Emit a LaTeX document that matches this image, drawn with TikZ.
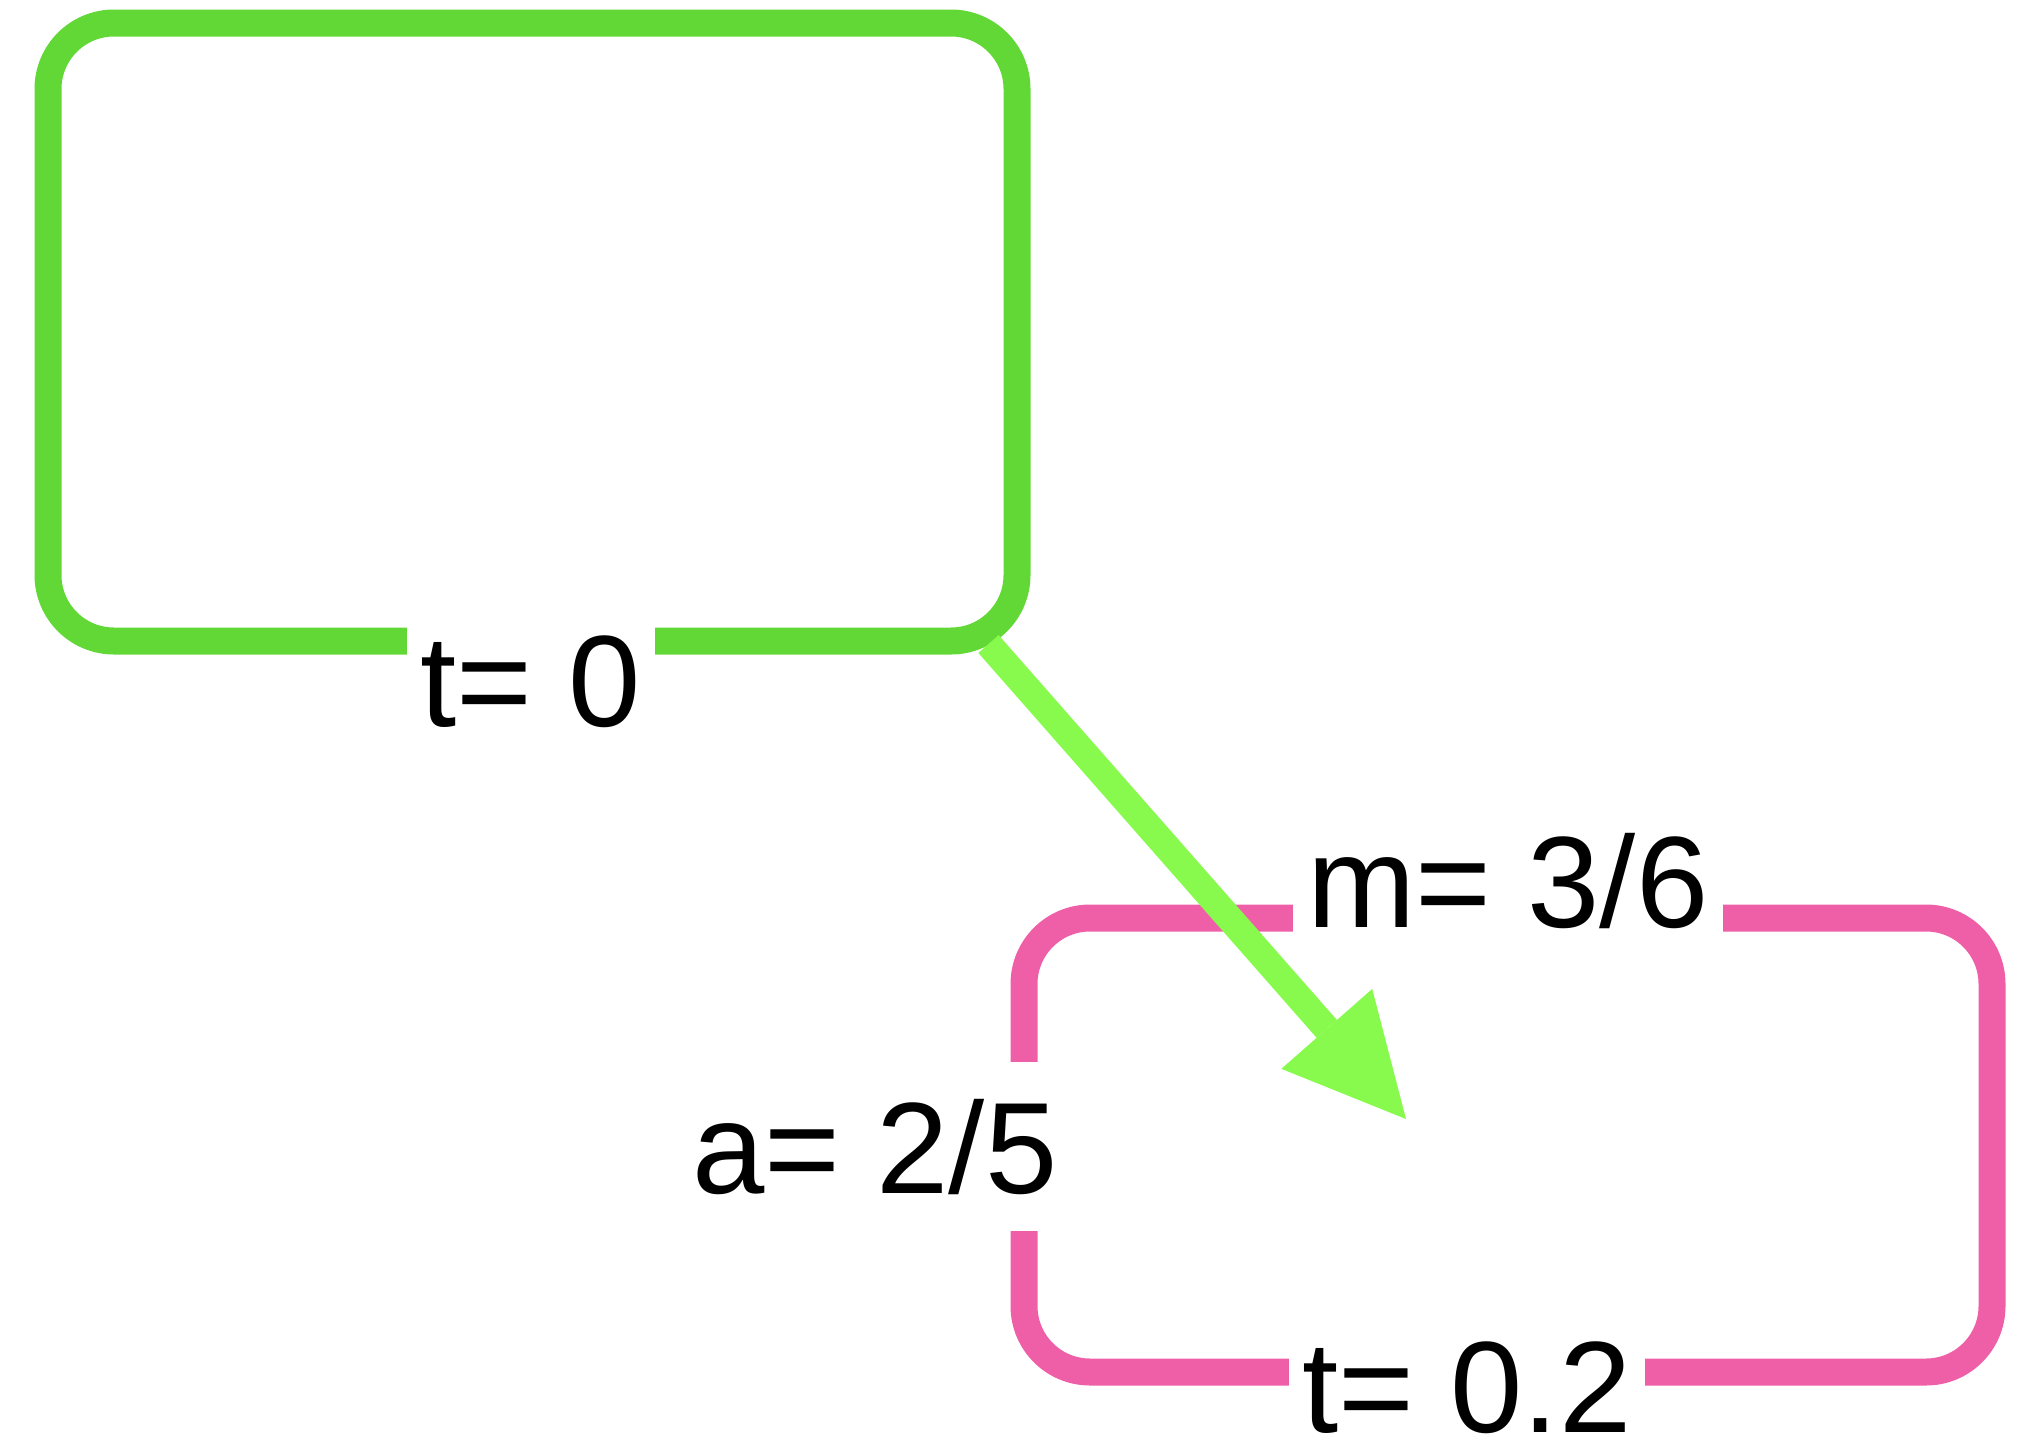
\documentclass[tikz,border=0pt]{standalone}
\usepackage{fontspec}
\setmainfont{Liberation Sans}
\usetikzlibrary{arrows.meta}
\definecolor{boxgreen}{HTML}{61D836}
\definecolor{arrowlime}{HTML}{88FA4E}
\definecolor{boxpink}{HTML}{EF5FA7}
\begin{document}
\begin{tikzpicture}[x=1pt, y=-1pt,
	state/.style={draw, line width=27pt, rounded corners=66pt, inner sep=0pt},
	lbl/.style={fill=white, inner xsep=14pt, inner ysep=8pt, anchor=base, font=\fontsize{130}{156}\selectfont},
	flow/.style={draw=arrowlime, line width=27pt, -{Triangle[length=120pt, width=121pt, line width=0pt]}}]
	\useasboundingbox (0,0) rectangle (2029,1438);
	\node[state, draw=boxgreen, minimum width=969pt, minimum height=618pt] (s0) at (532.5,332) {};
	\node[state, draw=boxpink, minimum width=968pt, minimum height=454pt] (s1) at (1508,1145) {};
	\node[lbl] (t0) at (531,726) {t= 0};
	\node[lbl] (m1) at (1508,927) {m= 3/6};
	\node[lbl, inner ysep=37pt] (a1) at (875,1193) {a= 2/5};
	\node[lbl] (t1) at (1467,1432) {t= 0.2};
	\coordinate (s0out) at (988.5,644);
	\coordinate (s1in) at (1406,1119);
	\draw[flow] (s0out) -- (s1in);
\end{tikzpicture}
\end{document}
